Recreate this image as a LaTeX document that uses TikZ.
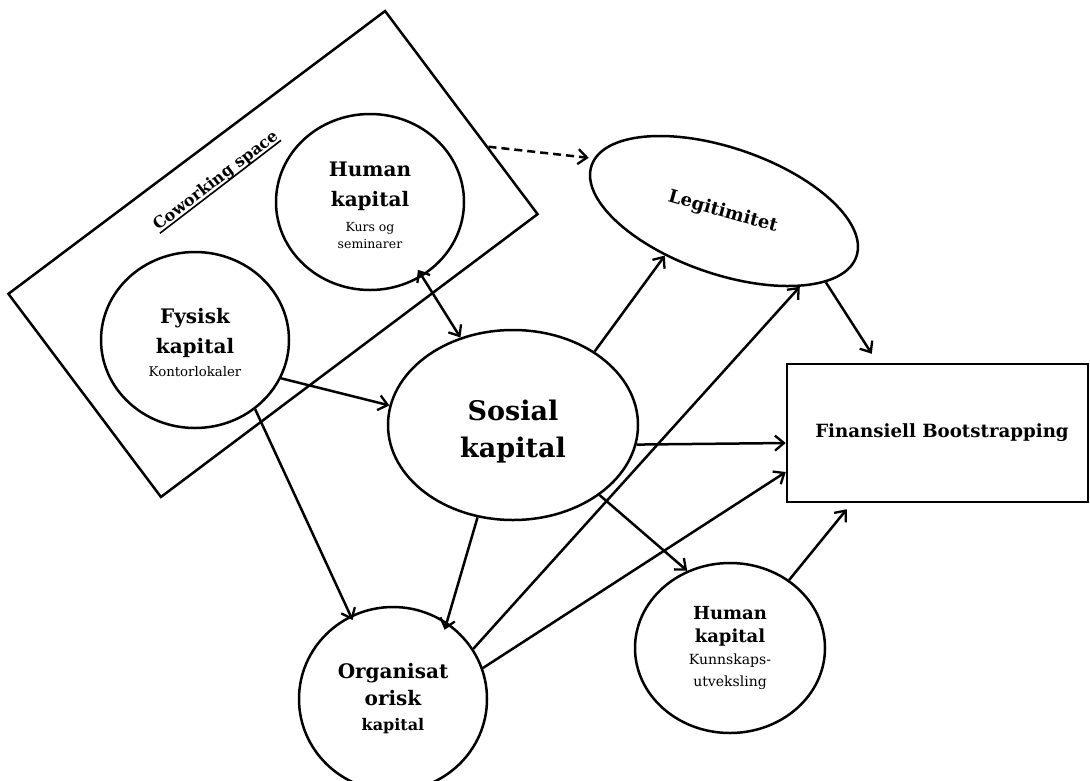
\documentclass[tikz,border=0pt]{standalone}
\usepackage{fontspec}
\setmainfont{DejaVu Serif}
\usetikzlibrary{shapes.geometric,arrows.meta,calc}
\newcommand\kapbig{\fontsize{20}{30}\selectfont\bfseries}
\newcommand\kapsmall{\fontsize{12.5}{15}\selectfont\mdseries}
\begin{document}
\begin{tikzpicture}[x=1pt,y=-1pt,
  thick line/.style={line width=2.5pt},
  bub/.style={ellipse,draw,thick line,inner sep=0pt,align=center},
  tipv/.tip={Straight Barb[length=9pt,width=15pt,line width=2.3pt]},
  arr/.style={thick line,-tipv},
  dblarr/.style={thick line,tipv-tipv},
  dasharr/.style={arr,dash pattern=on 8pt off 5pt}]
\useasboundingbox (0,0) rectangle (1090,780);
\fill[white] (0,0) rectangle (1090,780);

% coworking space frame and its underlined title
\node[draw,thick line,rotate=36.9,minimum width=471pt,minimum height=254pt,inner sep=0pt] (cw) at (273,254) {};
\node[rotate=37.5,font=\fontsize{16}{18}\selectfont\bfseries,inner sep=0pt] (cwlab) at (216,181) {Coworking space};
\draw[line width=1.6pt] ($(cwlab.base west)!3pt!-90:(cwlab.base east)$) -- ($(cwlab.base east)!3pt!90:(cwlab.base west)$);

% capital nodes
\node[bub,minimum width=188pt,minimum height=176pt,font=\kapbig] (hkt) at (370,202)
  {\rule{0pt}{22pt}Human\\kapital\\[-5pt]{\kapsmall Kurs og}\\[-13pt]{\kapsmall seminarer}};
\node[bub,minimum width=188pt,minimum height=176pt,font=\kapbig] (fk) at (195,340)
  {\rule{0pt}{20pt}Fysisk\\kapital\\[-7pt]{\fontsize{13.3}{15}\selectfont\mdseries Kontorlokaler}};
\node[bub,minimum width=250pt,minimum height=190pt,font=\fontsize{27}{37}\selectfont\bfseries] (sk) at (513,425)
  {\rule{0pt}{34pt}Sosial\\kapital};
\node[bub,rotate=-19,minimum width=280pt,minimum height=126pt] (lg) at (724,211) {};
\node[rotate=-15.5,font=\fontsize{18}{20}\selectfont\bfseries,inner sep=0pt] (lgtext) at (723,212) {Legitimitet};
\node[draw,thick line,minimum width=301pt,minimum height=138pt,inner sep=0pt,font=\fontsize{18.2}{22}\selectfont\bfseries] (fb) at (937.5,433)
  {\hspace*{9pt}Finansiell Bootstrapping};
\node[bub,minimum width=190pt,minimum height=170pt,font=\fontsize{18}{23}\selectfont\bfseries] (hkb) at (730,648)
  {Human\\kapital\\[-1pt]{\fontsize{14}{15}\selectfont\mdseries Kunnskaps-}\\[-1pt]{\fontsize{14}{15}\selectfont\mdseries utveksling}};
\node[bub,minimum width=188pt,minimum height=184pt,font=\fontsize{20}{27}\selectfont\bfseries] (ok) at (393,699)
  {Organisat\\orisk\\[-2pt]{\fontsize{16}{18}\selectfont kapital}};

% connectors
\draw[dasharr,shorten >=5pt] ($(cw.north east)!0.67!(cw.south east)$) -- (lg.177.1);
\draw[dblarr,shorten <=-8pt] (hkt.-55.3) -- (sk.121.9);
\draw[arr] (fk.-24.6) -- (sk.171.9);
\draw[arr,shorten >=-5pt] (fk.-49.5) -- (ok.117.7);
\draw[arr,shorten >=-8pt] (sk.-111.8) -- (ok.55.7);
\draw[arr] (sk.42.3) -- (lg.236.4);
\draw[arr] (sk.-9.1) -- ([yshift=-10pt]fb.west);
\draw[arr] (sk.-39) -- (hkb.119.4);
\draw[arr] (ok.32.5) -- (lg.-26.4);
\draw[arr] (ok.19.7) -- ([yshift=-39pt]fb.west);
\draw[arr] (hkb.49.2) -- ([xshift=61pt,yshift=-6pt]fb.south west);
\draw[arr] (lg.-16.5) -- ([xshift=86pt,yshift=9pt]fb.north west);
\end{tikzpicture}
\end{document}
